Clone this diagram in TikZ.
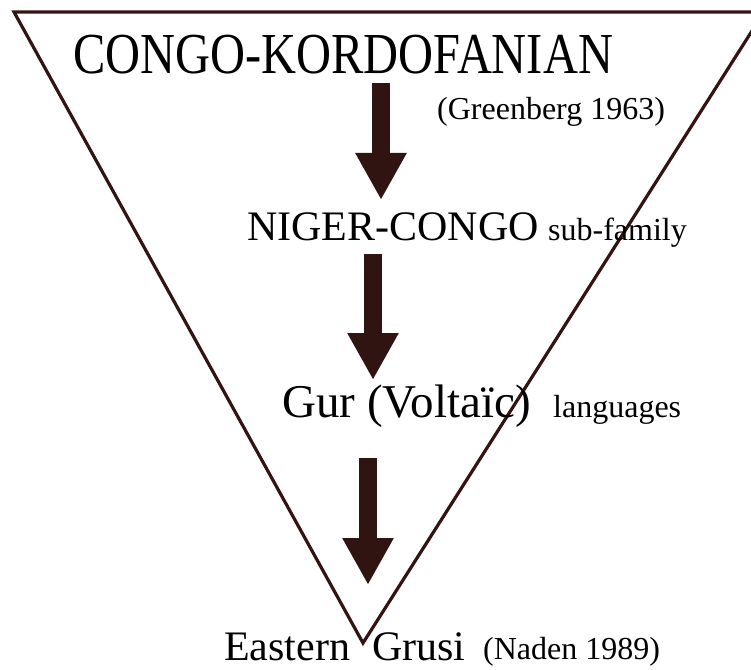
\documentclass[tikz,border=0pt]{standalone}
\usepackage{fontspec}
\setmainfont{Liberation Serif}
\usepackage{graphicx}
\usetikzlibrary{arrows.meta}
\definecolor{linebrown}{RGB}{50,20,18}
\definecolor{arrowbrown}{RGB}{48,20,18}

\tikzset{
  famlabel/.style={anchor=base west, inner sep=0pt, font=\fontsize{42bp}{48bp}\selectfont},
  notelabel/.style={anchor=base west, inner sep=0pt, font=\fontsize{32bp}{36bp}\selectfont},
  bigarrow/.style={draw=arrowbrown, line width=17.5bp, -{Triangle[length=47bp,width=48bp]}},
}

\begin{document}
\begin{tikzpicture}[x=1bp, y=-1bp]
\useasboundingbox (0,0) rectangle (751,670);
\clip (0,0) rectangle (751,670);
%--- triangolo rovesciato ---
\draw[linebrown, line width=3.2bp] (14,12) -- (764,12) -- (363,643) -- cycle;
%--- famiglie ---
\node[famlabel, font=\fontsize{58bp}{60bp}\selectfont] (congo) at (73,74) {\scalebox{0.835}[1]{CONGO-KORDOFANIAN}};
\node[notelabel] (greenberg) at (437,120) {(Greenberg 1963)};
\node[famlabel] (niger) at (247,240) {NIGER-CONGO};
\node[notelabel] (subfam) at (548,240) {sub-family};
\node[famlabel, font=\fontsize{47bp}{50bp}\selectfont] (gur) at (282,417) {Gur (Volta\"ic)};
\node[notelabel] (lang) at (553,417) {languages};
\node[famlabel] (eastern) at (224,660) {Eastern};
\node[famlabel] (grusi) at (372,660) {Grusi};
\node[notelabel] (naden) at (483,659) {(Naden 1989)};
%--- frecce ---
\coordinate (a1top) at (381,83);
\coordinate (a1tip) at (381,200);
\coordinate (a2top) at (373,254);
\coordinate (a2tip) at (373,380);
\coordinate (a3top) at (368,458);
\coordinate (a3tip) at (368,585);
\draw[bigarrow] (a1top) -- (a1tip);
\draw[bigarrow] (a2top) -- (a2tip);
\draw[bigarrow] (a3top) -- (a3tip);
\end{tikzpicture}
\end{document}
